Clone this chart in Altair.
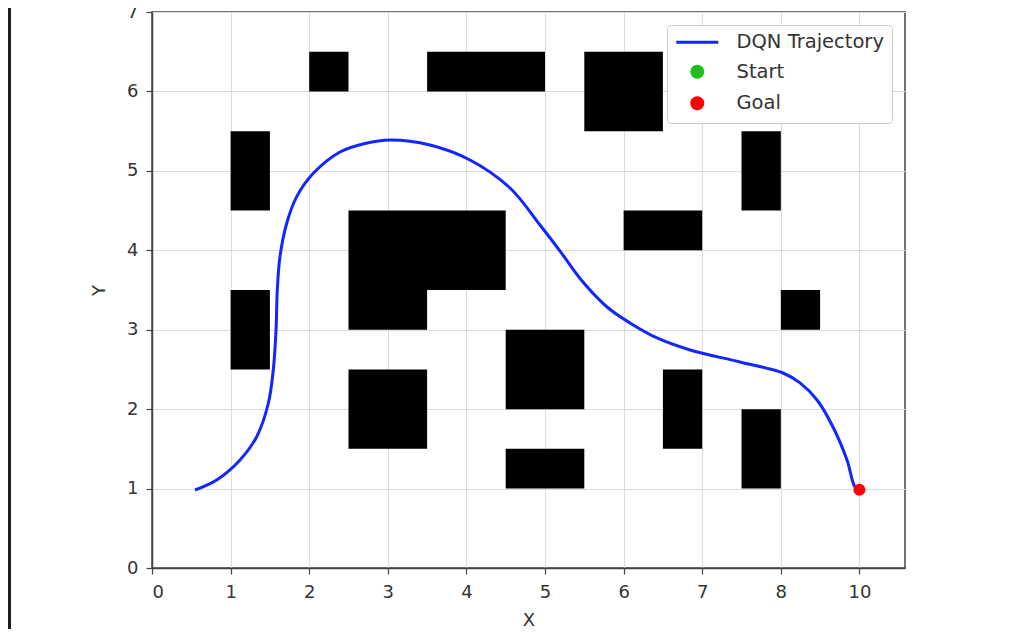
import json
import altair as alt
import pandas as pd

# ---- data ----
obs_x0 = [2.0, 3.5, 5.5, 1.0, 7.5, 2.5, 2.5, 6.0, 1.0, 8.0, 4.5, 2.5, 6.5, 7.5, 4.5]
obs_x1 = [2.5, 5.0, 6.5, 1.5, 8.0, 4.5, 3.5, 7.0, 1.5, 8.5, 5.5, 3.5, 7.0, 8.0, 5.5]
obs_y0 = [6.0, 6.0, 5.5, 4.5, 4.5, 3.5, 3.0, 4.0, 2.5, 3.0, 2.0, 1.5, 1.5, 1.0, 1.0]
obs_y1 = [6.5, 6.5, 6.5, 5.5, 5.5, 4.5, 3.5, 4.5, 3.5, 3.5, 3.0, 2.5, 2.5, 2.0, 1.5]

traj_x = [0.547, 0.823, 1.120, 1.332, 1.480, 1.543, 1.578, 1.594, 1.628, 1.714,
          1.841, 2.052, 2.392, 2.710, 3.028, 3.537, 4.046, 4.555, 4.936, 5.191,
          5.483, 5.789, 6.081, 6.425, 6.845, 7.481, 8.028, 8.244, 8.461, 8.664,
          8.842, 8.944, 9.0]
traj_y = [0.982, 1.108, 1.360, 1.653, 2.074, 2.493, 2.996, 3.500, 3.919, 4.340,
          4.675, 4.969, 5.238, 5.345, 5.389, 5.326, 5.137, 4.784, 4.318, 3.990,
          3.600, 3.286, 3.085, 2.896, 2.745, 2.594, 2.455, 2.330, 2.115, 1.775,
          1.360, 1.020, 0.985]

goal_x = [9.0]
goal_y = [0.985]

series_names = ["DQN Trajectory", "Start", "Goal"]
series_colors = ["#1226ff", "#1fbf1f", "#ff0000"]

x_tick_values = [0, 1, 2, 3, 4, 5, 6, 7, 8, 9]
x_tick_labels = ["0", "1", "2", "3", "4", "5", "6", "7", "8", "10"]
y_tick_values = [0, 1, 2, 3, 4, 5, 6, 7]

x_domain = [0, 9.58]
y_domain = [0, 7]

# ---- tables ----
obs_df = pd.DataFrame({"x0": obs_x0, "x1": obs_x1, "y0": obs_y0, "y1": obs_y1})
traj_df = pd.DataFrame({"x": traj_x, "y": traj_y, "series": series_names[0],
                        "order": list(range(len(traj_x)))})
goal_df = pd.DataFrame({"x": goal_x, "y": goal_y, "series": series_names[2]})

FONT = "DejaVu Sans"
x_scale = alt.Scale(domain=x_domain, nice=False, zero=False)
y_scale = alt.Scale(domain=y_domain, nice=False, zero=False)

x_axis = alt.Axis(values=x_tick_values, title="X",
                  labelExpr=f"{json.dumps(x_tick_labels)}[datum.value]")
y_axis = alt.Axis(values=y_tick_values, title="Y")

is_line = f"datum.value === '{series_names[0]}'"
color_scale = alt.Scale(domain=series_names, range=series_colors)
legend = alt.Legend(
    title=None, orient="top-right", offset=13, fillColor="white",
    strokeColor="#cccccc", cornerRadius=4, padding=7.5,
    labelFontSize=19.5, labelFont=FONT, labelColor="#333333",
    symbolType=alt.ExprRef(expr=f"{is_line} ? 'stroke' : 'circle'"),
    symbolSize=alt.ExprRef(expr=f"{is_line} ? 1764 : 121"),
    symbolFillColor=alt.ExprRef(expr=f"{is_line} ? 'transparent' : scale('color', datum.value)"),
    symbolStrokeColor=alt.ExprRef(expr=f"{is_line} ? scale('color', datum.value) : 'transparent'"),
    symbolStrokeWidth=3, symbolOpacity=1,
    symbolOffset=13, labelOffset=29.5, rowPadding=7.5,
)

rects = alt.Chart(obs_df).mark_rect(color="black").encode(
    x=alt.X("x0:Q", scale=x_scale, axis=x_axis),
    x2="x1:Q",
    y=alt.Y("y0:Q", scale=y_scale, axis=y_axis),
    y2="y1:Q",
)

line = alt.Chart(traj_df).mark_line(strokeWidth=3, interpolate="catmull-rom").encode(
    x=alt.X("x:Q", scale=x_scale, axis=x_axis),
    y=alt.Y("y:Q", scale=y_scale, axis=y_axis),
    order="order:Q",
    color=alt.Color("series:N", scale=color_scale, legend=legend),
)

goal = alt.Chart(goal_df).mark_circle(size=144, opacity=1).encode(
    x=alt.X("x:Q", scale=x_scale, axis=x_axis),
    y=alt.Y("y:Q", scale=y_scale, axis=y_axis),
    color=alt.Color("series:N", scale=color_scale, legend=legend),
)

frame = alt.Chart(pd.DataFrame({"k": [0]})).mark_rule(color="#1e1e1e", strokeWidth=3).encode(
    x=alt.value(-142.5), y=alt.value(-4), y2=alt.value(617)
)

chart = alt.layer(rects, line, goal, frame).properties(
    width=753, height=556,
    autosize=alt.AutoSizeParams(type="none"),
    padding={"left": 144, "top": 4, "right": 114, "bottom": 61},
    background="white",
).configure_view(
    stroke="#444444", strokeWidth=1.5
).configure_axis(
    labelFont=FONT, titleFont=FONT, labelFontSize=18, titleFontSize=18,
    labelColor="#333333", titleColor="#333333", titleFontWeight="normal",
    domainColor="#444444", domainWidth=1.5, tickColor="#444444", tickSize=6,
    tickWidth=1.2, gridColor="#dcdcdc", gridWidth=1,
).configure_axisX(
    labelPadding=9, titlePadding=10
).configure_axisY(
    labelPadding=8, titlePadding=18.5
)

chart.save("out.html", embed_options={"renderer": "svg", "actions": False})
